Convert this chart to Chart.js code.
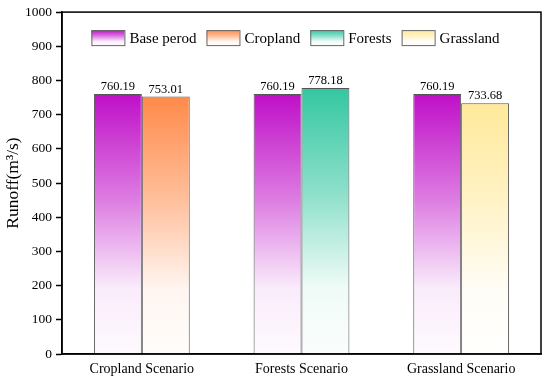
<!DOCTYPE html>
<html>
<head>
<meta charset="utf-8">
<script src="https://cdn.jsdelivr.net/npm/chart.js@4/dist/chart.umd.min.js"></script>
<style>
  html, body { margin: 0; padding: 0; background: #fff; }
  #wrap { width: 550px; height: 380px; }
</style>
</head>
<body>
<div id="wrap"><canvas id="runoffChart" width="550" height="380"></canvas></div>
<script>
const categories = ['Cropland Scenario', 'Forests Scenario', 'Grassland Scenario'];
const baseValues = [760.19, 760.19, 760.19];
const scenarioValues = [753.01, 778.18, 733.68];
const legendLabels = ['Base perod', 'Cropland', 'Forests', 'Grassland'];
const yTicks = [0, 100, 200, 300, 400, 500, 600, 700, 800, 900, 1000];

const baseColor = [192, 15, 200];
const scenarioColors = [[255, 138, 74], [51, 199, 160], [255, 233, 154]];
const legendColors = [baseColor].concat(scenarioColors);
const FONT = "'Liberation Serif', 'Times New Roman', serif";

function rgb(c, k) {
    // k = share of the colour, the rest is white
    const m = c.map(v => Math.round(v * k + 255 * (1 - k)));
    return 'rgb(' + m.join(',') + ')';
}

function fade(ctx, color, top, bottom) {
    const g = ctx.createLinearGradient(0, top, 0, bottom);
    g.addColorStop(0, rgb(color, 1));
    g.addColorStop(0.4, rgb(color, 0.55));
    g.addColorStop(0.75, rgb(color, 0.08));
    g.addColorStop(1, rgb(color, 0.02));
    return g;
}

function barGradient(context, color) {
    const chart = context.chart;
    if (!chart.chartArea || context.raw == null) return rgb(color, 1);
    const y = chart.scales.y;
    return fade(chart.ctx, color, y.getPixelForValue(context.raw), y.getPixelForValue(0));
}

// frame, value labels and the gradient legend inside the plot
const extras = {
    id: 'extras',
    afterDraw(chart) {
        const { ctx, chartArea } = chart;
        ctx.save();
        ctx.strokeStyle = '#000';
        ctx.lineWidth = 1.5;
        ctx.strokeRect(chartArea.left, chartArea.top, chartArea.right - chartArea.left, chartArea.bottom - chartArea.top);

        ctx.fillStyle = '#000';
        ctx.font = '12.5px ' + FONT;
        ctx.textAlign = 'center';
        ctx.textBaseline = 'bottom';
        chart.data.datasets.forEach((ds, i) => {
            chart.getDatasetMeta(i).data.forEach((bar, j) => {
                ctx.fillText(ds.data[j].toFixed(2), bar.x, bar.y - 1);
            });
        });

        ctx.font = '15px ' + FONT;
        ctx.textAlign = 'left';
        ctx.textBaseline = 'middle';
        const boxW = 33, boxH = 15, gapText = 5, gapItem = 10;
        const widths = legendLabels.map(t => boxW + gapText + ctx.measureText(t).width);
        const total = widths.reduce((a, b) => a + b, 0) + gapItem * (legendLabels.length - 1);
        let x = (chartArea.left + chartArea.right) / 2 - total / 2 - 6;
        const top = chartArea.top + 18;
        legendLabels.forEach((t, i) => {
            ctx.fillStyle = fade(ctx, legendColors[i], top, top + boxH);
            ctx.fillRect(x, top, boxW, boxH);
            ctx.strokeStyle = '#666';
            ctx.lineWidth = 1;
            ctx.strokeRect(x + 0.5, top + 0.5, boxW, boxH);
            ctx.fillStyle = '#000';
            ctx.fillText(t, x + boxW + gapText, top + boxH / 2 + 1);
            x += widths[i] + gapItem;
        });
        ctx.restore();
    }
};

new Chart(document.getElementById('runoffChart'), {
    type: 'bar',
    data: {
        labels: categories,
        datasets: [
            {
                label: legendLabels[0],
                data: baseValues,
                backgroundColor: c => barGradient(c, baseColor),
                borderColor: '#555',
                borderWidth: 1
            },
            {
                label: 'Scenario',
                data: scenarioValues,
                backgroundColor: c => barGradient(c, scenarioColors[c.dataIndex]),
                borderColor: '#555',
                borderWidth: 1
            }
        ]
    },
    options: {
        responsive: false,
        animation: false,
        devicePixelRatio: 1,
        layout: { padding: { top: 10, right: 9, left: 0, bottom: 0 } },
        datasets: {
            bar: { categoryPercentage: 0.6, barPercentage: 1 }
        },
        scales: {
            x: {
                grid: { display: false, drawTicks: false },
                border: { color: '#000', width: 1.5 },
                ticks: { color: '#000', padding: 7, font: { family: FONT, size: 14 } },
                afterFit: s => { s.height = 26; }
            },
            y: {
                min: 0,
                max: 1000,
                afterBuildTicks: s => { s.ticks = yTicks.map(v => ({ value: v })); },
                grid: { drawOnChartArea: false, tickLength: 6, tickColor: '#000', tickWidth: 1.5 },
                border: { color: '#000', width: 1.5 },
                ticks: { color: '#000', padding: 4, font: { family: FONT, size: 13.5 }, callback: v => String(v) },
                title: {
                    display: true,
                    text: 'Runoff(m³/s)',
                    color: '#000',
                    padding: { top: 3, bottom: 2 },
                    font: { family: FONT, size: 17.5 }
                },
                afterFit: s => { s.width = 62; }
            }
        },
        plugins: {
            legend: { display: false },
            tooltip: { enabled: false }
        }
    },
    plugins: [extras]
});
</script>
</body>
</html>
